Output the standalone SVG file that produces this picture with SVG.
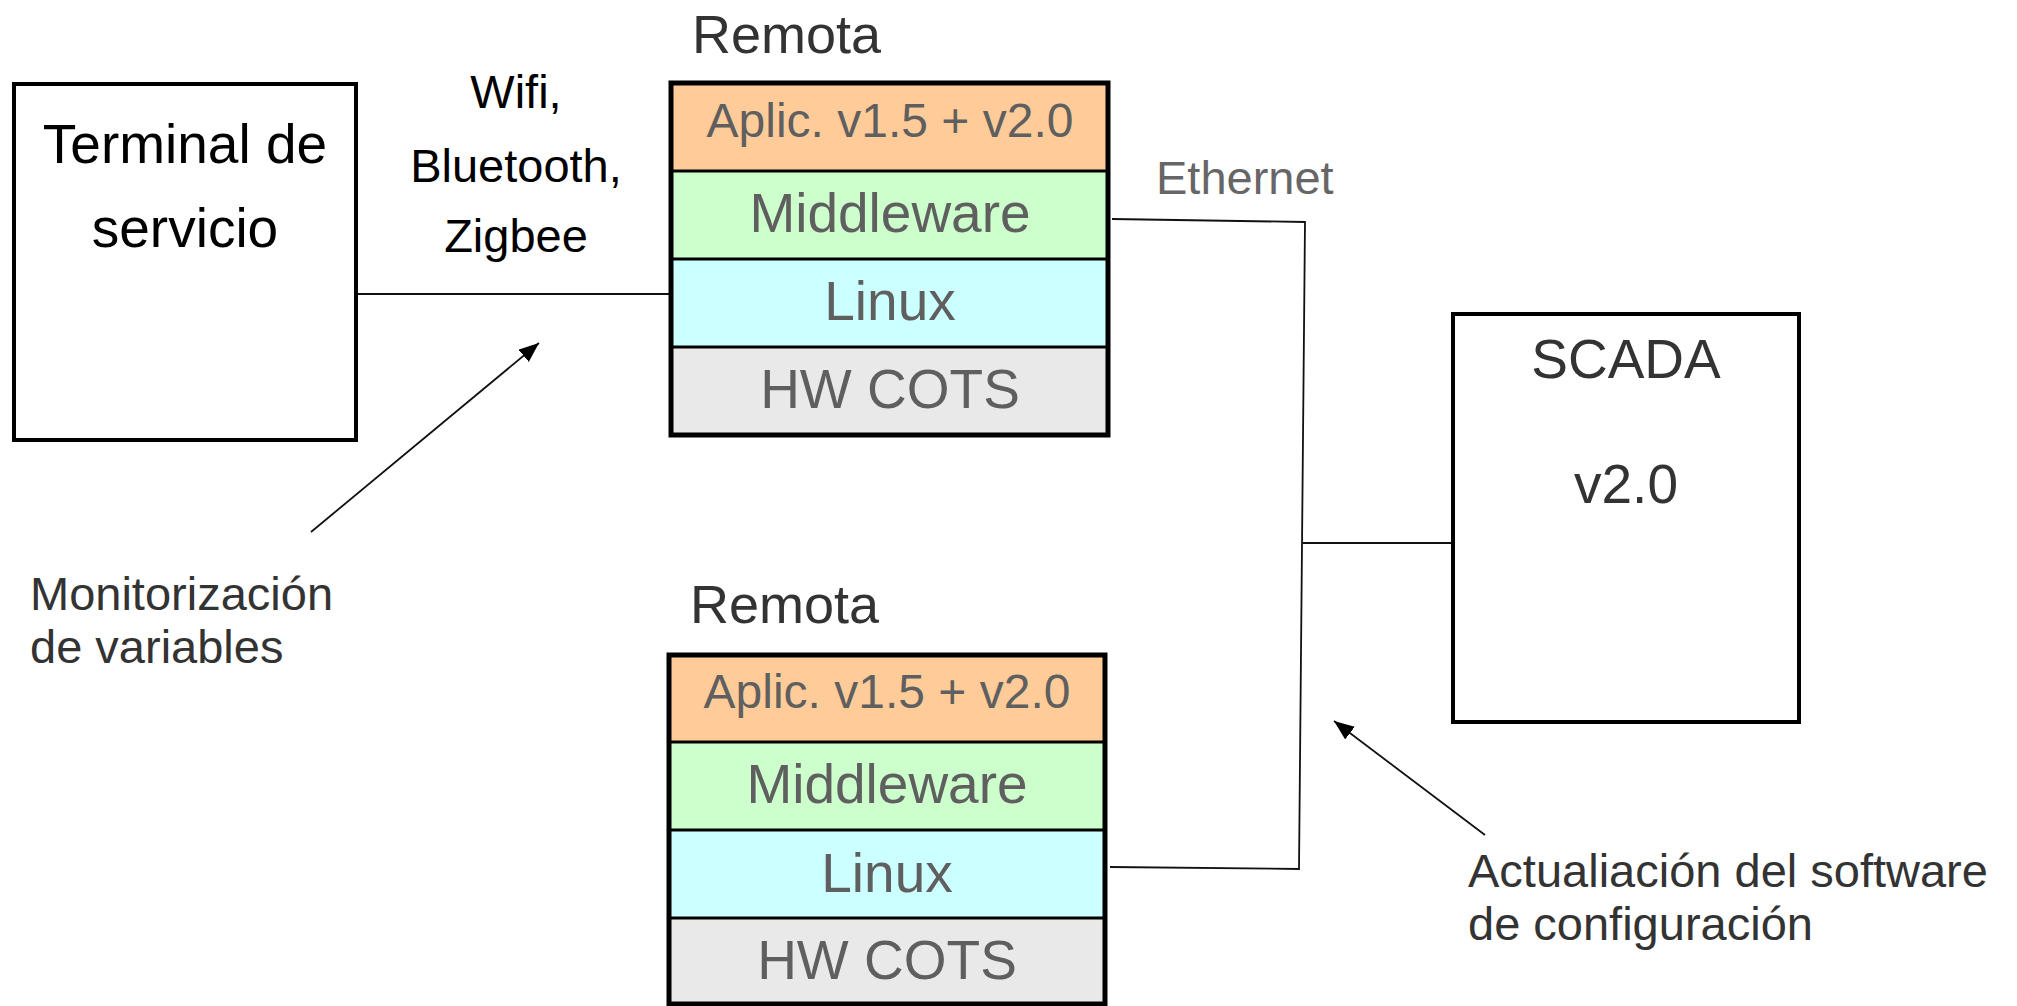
<svg xmlns="http://www.w3.org/2000/svg" width="2017" height="1006" viewBox="0 0 2017 1006">
<style>
text{font-family:"Liberation Sans",Arial,sans-serif}
.box{fill:#fff;stroke:#000;stroke-width:4}
.lay{stroke:#000;stroke-width:3}
.ltxt{font-size:55px;fill:#5f5f5f;text-anchor:middle}
.atxt{font-size:48px;fill:#5f5f5f;text-anchor:middle}
.dark{fill:#333}
.conn{fill:none;stroke:#111;stroke-width:1.8}
</style>
<defs>
<marker id="ah2" viewBox="0 0 20 16" refX="20" refY="8" markerWidth="20" markerHeight="16" markerUnits="userSpaceOnUse" orient="auto">
<path d="M0,0 L20,8 L0,16 z" fill="#000"/>
</marker>
</defs>
<rect width="2017" height="1006" fill="#fff"/>

<g id="connectors">
<line class="conn" x1="356" y1="294" x2="671" y2="294" stroke="#444"/>
<polyline class="conn" points="1112,219 1305,222 1299,869 1110,867"/>
<line class="conn" x1="1303" y1="543" x2="1453" y2="543"/>
<line class="conn" x1="311" y1="532" x2="539" y2="343" marker-end="url(#ah2)"/>
<line class="conn" x1="1485" y1="835" x2="1334" y2="721" marker-end="url(#ah2)"/>
</g>

<g id="terminal">
<rect class="box" x="14" y="84" width="342" height="356"/>
<text x="185" y="163" font-size="55" text-anchor="middle" fill="#000">Terminal de</text>
<text x="185" y="247" font-size="55" text-anchor="middle" fill="#000">servicio</text>
</g>

<g id="wireless-label">
<text x="516" y="108" font-size="47" text-anchor="middle" fill="#000">Wifi,</text>
<text x="516" y="182" font-size="47" text-anchor="middle" fill="#000">Bluetooth,</text>
<text x="516" y="252" font-size="47" text-anchor="middle" fill="#000">Zigbee</text>
</g>

<g id="remota1">
<text class="dark" x="692" y="53" font-size="54">Remota</text>
<rect x="671" y="83" width="437" height="88" fill="#FFCC99"/>
<rect x="671" y="171" width="437" height="88" fill="#CCFFCC"/>
<rect x="671" y="259" width="437" height="88" fill="#CCFFFF"/>
<rect x="671" y="347" width="437" height="88" fill="#E9E9E9"/>
<line class="lay" x1="671" y1="171" x2="1108" y2="171"/>
<line class="lay" x1="671" y1="259" x2="1108" y2="259"/>
<line class="lay" x1="671" y1="347" x2="1108" y2="347"/>
<rect x="671" y="83" width="437" height="352" fill="none" stroke="#000" stroke-width="5"/>
<text class="atxt" x="890" y="137">Aplic. v1.5 + v2.0</text>
<text class="ltxt" x="890" y="232">Middleware</text>
<text class="ltxt" x="890" y="320">Linux</text>
<text class="ltxt" x="890" y="408">HW COTS</text>
</g>

<g id="remota2">
<text class="dark" x="690" y="623" font-size="54">Remota</text>
<rect x="669" y="655" width="436" height="87" fill="#FFCC99"/>
<rect x="669" y="742" width="436" height="88" fill="#CCFFCC"/>
<rect x="669" y="830" width="436" height="88" fill="#CCFFFF"/>
<rect x="669" y="918" width="436" height="86" fill="#E9E9E9"/>
<line class="lay" x1="669" y1="742" x2="1105" y2="742"/>
<line class="lay" x1="669" y1="830" x2="1105" y2="830"/>
<line class="lay" x1="669" y1="918" x2="1105" y2="918"/>
<rect x="669" y="655" width="436" height="349" fill="none" stroke="#000" stroke-width="5"/>
<text class="atxt" x="887" y="708">Aplic. v1.5 + v2.0</text>
<text class="ltxt" x="887" y="803">Middleware</text>
<text class="ltxt" x="887" y="892">Linux</text>
<text class="ltxt" x="887" y="979">HW COTS</text>
</g>

<g id="ethernet-label">
<text x="1156" y="194" font-size="47" fill="#666">Ethernet</text>
</g>

<g id="scada">
<rect class="box" x="1453" y="314" width="346" height="408"/>
<text class="dark" x="1626" y="378" font-size="55" text-anchor="middle">SCADA</text>
<text class="dark" x="1626" y="503" font-size="55" text-anchor="middle">v2.0</text>
</g>

<g id="monitor-label">
<text class="dark" x="30" y="610" font-size="47">Monitorización</text>
<text class="dark" x="30" y="663" font-size="47">de variables</text>
</g>

<g id="update-label">
<text class="dark" x="1468" y="887" font-size="47">Actualiación del software</text>
<text class="dark" x="1468" y="940" font-size="47">de configuración</text>
</g>
</svg>
